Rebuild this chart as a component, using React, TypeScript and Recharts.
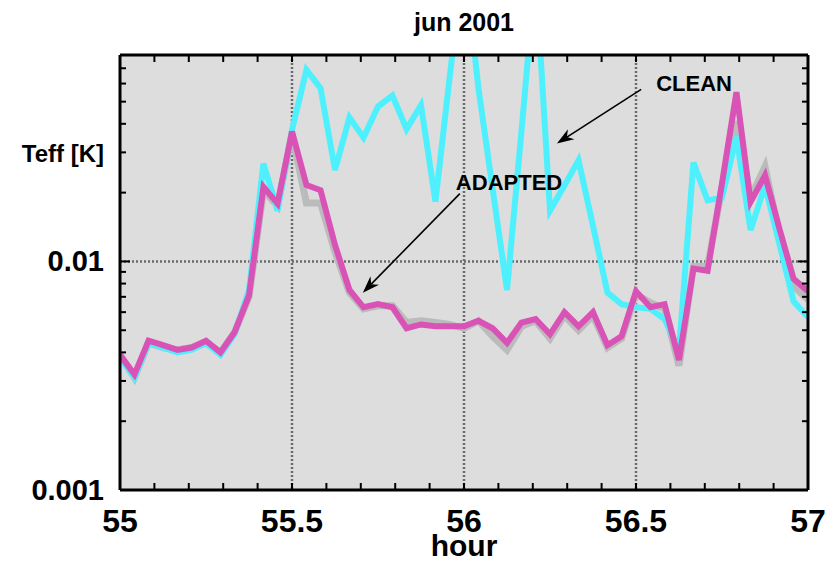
import { LineChart, Line, XAxis, YAxis, CartesianGrid, ReferenceLine } from 'recharts'

// samples every 2.5 min, hour 55 .. 57
const hours = [
  55, 55.042, 55.083, 55.125, 55.167, 55.208, 55.25, 55.292, 55.333, 55.375, 55.417, 55.458,
  55.5, 55.542, 55.583, 55.625, 55.667, 55.708, 55.75, 55.792, 55.833, 55.875, 55.917, 55.958,
  56, 56.042, 56.083, 56.125, 56.167, 56.208, 56.25, 56.292, 56.333, 56.375, 56.417, 56.458,
  56.5, 56.542, 56.583, 56.625, 56.667, 56.708, 56.75, 56.792, 56.833, 56.875, 56.917, 56.958,
  57,
]

const clean = [
  0.0038, 0.0031, 0.0044, 0.0042, 0.004, 0.0041, 0.0044, 0.0039, 0.0048, 0.0075, 0.0268, 0.0167,
  0.0376, 0.0689, 0.0572, 0.0251, 0.0426, 0.0348, 0.0476, 0.0532, 0.0379, 0.0483, 0.0183, 0.0634,
  0.216, 0.0572, 0.0209, 0.0075, 0.037, 0.184, 0.0167, 0.0215, 0.0277, 0.0143, 0.0073, 0.0065,
  0.0063, 0.0062, 0.0056, 0.0041, 0.0271, 0.0185, 0.019, 0.0351, 0.0137, 0.0215, 0.0119, 0.0067,
  0.0057,
]

const adapted = [
  0.0039, 0.0032, 0.0045, 0.0043, 0.0041, 0.0042, 0.0045, 0.004, 0.0049, 0.0071, 0.0212, 0.0179,
  0.037, 0.0216, 0.0205, 0.0118, 0.0075, 0.0063, 0.0065, 0.0063, 0.0051, 0.0053, 0.0052, 0.0052,
  0.0052, 0.0055, 0.0051, 0.0044, 0.0054, 0.0056, 0.0048, 0.006, 0.0052, 0.006, 0.0043, 0.0047,
  0.0074, 0.0063, 0.0065, 0.0037, 0.0093, 0.0091, 0.022, 0.055, 0.0182, 0.0238, 0.0139, 0.0084,
  0.0074,
]

// grey trace drawn underneath the adapted curve
const shadow = [
  0.0039, 0.0031, 0.0044, 0.0042, 0.0041, 0.0042, 0.0044, 0.004, 0.0049, 0.007, 0.0205, 0.0175,
  0.036, 0.018, 0.018, 0.011, 0.0073, 0.0062, 0.0064, 0.0064, 0.0054, 0.0055, 0.0054, 0.0053,
  0.0051, 0.0055, 0.0047, 0.0041, 0.0052, 0.0055, 0.0046, 0.0058, 0.005, 0.0058, 0.0042, 0.0046,
  0.0072, 0.0066, 0.0062, 0.0035, 0.0095, 0.0095, 0.021, 0.041, 0.019, 0.026, 0.013, 0.0078,
  0.0068,
]

const hourTicks = [
  55, 55.1, 55.2, 55.3, 55.4, 55.5, 55.6, 55.7, 55.8, 55.9, 56,
  56.1, 56.2, 56.3, 56.4, 56.5, 56.6, 56.7, 56.8, 56.9, 57,
]
const hourLabels = [55, 55.5, 56, 56.5, 57]
const teffTicks = [
  0.001, 0.002, 0.003, 0.004, 0.005, 0.006, 0.007, 0.008, 0.009,
  0.01, 0.02, 0.03, 0.04, 0.05, 0.06, 0.07, 0.08,
]
const teffLabels = [0.001, 0.01]
const gridHours = [55.5, 56, 56.5]
const gridTeff = [0.01]

const FONT = '"Liberation Sans", Arial, Helvetica, sans-serif'

const data = hours.map((h, i) => ({ hour: h, clean: clean[i], adapted: adapted[i], shadow: shadow[i] }))

const near = (list: number[], v: number) => list.some((m) => Math.abs(m - v) < 1e-9)

function BottomTick(props: any) {
  const { x, y, payload } = props
  const v = payload.value
  return (
    <g>
      <line x1={x} y1={y} x2={x} y2={y - 7} stroke="#000" strokeWidth={2} />
      {near(hourLabels, v) && (
        <text x={x} y={y + 42} textAnchor="middle" fontSize={32} fontWeight="bold" fontFamily={FONT} fill="#000">
          {String(v)}
        </text>
      )}
    </g>
  )
}

function TopTick(props: any) {
  const { x, y } = props
  return <line x1={x} y1={y} x2={x} y2={y + 7} stroke="#000" strokeWidth={2} />
}

function LeftTick(props: any) {
  const { x, y, payload } = props
  const v = payload.value
  const major = near(teffLabels, v)
  return (
    <g>
      <line x1={x} y1={y} x2={x + (major ? 10 : 6)} y2={y} stroke="#000" strokeWidth={2} />
      {major && (
        <text x={x - 16} y={y + 10} textAnchor="end" fontSize={29} fontWeight="bold" fontFamily={FONT} fill="#000">
          {String(v)}
        </text>
      )}
    </g>
  )
}

function RightTick(props: any) {
  const { x, y, payload } = props
  const major = near(teffLabels, payload.value)
  return <line x1={x} y1={y} x2={x - (major ? 10 : 6)} y2={y} stroke="#000" strokeWidth={2} />
}

function arrow(text: string, dx: number, dy: number) {
  return (p: any) => {
    const { x1, y1, x2, y2 } = p
    const a = Math.atan2(y2 - y1, x2 - x1)
    const c = Math.cos(a)
    const s = Math.sin(a)
    const L = 17
    const W = 6
    const bx = x2 - L * c
    const by = y2 - L * s
    const nx = x2 - L * 0.7 * c
    const ny = y2 - L * 0.7 * s
    const pts = [
      [x2, y2],
      [bx - W * s, by + W * c],
      [nx, ny],
      [bx + W * s, by - W * c],
    ]
      .map((q) => q.join(','))
      .join(' ')
    return (
      <g>
        <line x1={x1} y1={y1} x2={nx} y2={ny} stroke="#000" strokeWidth={1.6} />
        <polygon points={pts} fill="#000" />
        <text x={x1 + dx} y={y1 + dy} fontSize={22} fontWeight="bold" fontFamily={FONT} fill="#000">
          {text}
        </text>
      </g>
    )
  }
}

export default function App() {
  return (
    <div style={{ position: 'absolute', left: 0, top: 0, width: 827, height: 563, background: '#fff' }}>
      <LineChart width={827} height={563} data={data} margin={{ top: 0, right: 0, bottom: 0, left: 0 }}>
        <CartesianGrid
          fill="#dcdddc"
          stroke="#6a6a6a"
          strokeWidth={2.5}
          strokeDasharray="2 2"
          verticalValues={gridHours}
          horizontalValues={gridTeff}
        />
        <XAxis
          dataKey="hour"
          type="number"
          domain={[55, 57]}
          allowDataOverflow
          ticks={hourTicks}
          interval={0}
          height={73}
          tickSize={0}
          tickMargin={0}
          tickLine={false}
          tick={<BottomTick />}
          axisLine={{ stroke: '#000', strokeWidth: 3 }}
          label={(p: any) => (
            <text
              x={p.viewBox.x + p.viewBox.width / 2}
              y={p.viewBox.y + 66}
              textAnchor="middle"
              fontSize={30}
              fontWeight="bold"
              fontFamily={FONT}
              fill="#000"
            >
              hour
            </text>
          )}
        />
        <XAxis
          xAxisId="top"
          orientation="top"
          dataKey="hour"
          type="number"
          domain={[55, 57]}
          allowDataOverflow
          ticks={hourTicks}
          interval={0}
          height={55}
          tickSize={0}
          tickMargin={0}
          tickLine={false}
          tick={<TopTick />}
          axisLine={{ stroke: '#000', strokeWidth: 3 }}
          label={(p: any) => (
            <text
              x={p.viewBox.x + p.viewBox.width / 2}
              y={p.viewBox.y + 31}
              textAnchor="middle"
              fontSize={25}
              fontWeight="bold"
              fontFamily={FONT}
              fill="#000"
            >
              jun 2001
            </text>
          )}
        />
        <YAxis
          type="number"
          scale="log"
          domain={[0.001, 0.08]}
          allowDataOverflow
          ticks={teffTicks}
          interval={0}
          width={120}
          tickSize={0}
          tickMargin={0}
          tickLine={false}
          tick={<LeftTick />}
          axisLine={{ stroke: '#000', strokeWidth: 3 }}
          label={(p: any) => (
            <text
              x={p.viewBox.x + p.viewBox.width - 16}
              y={p.viewBox.y + 107}
              textAnchor="end"
              fontSize={24}
              fontWeight="bold"
              fontFamily={FONT}
              fill="#000"
            >
              Teff [K]
            </text>
          )}
        />
        <YAxis
          yAxisId="right"
          orientation="right"
          type="number"
          scale="log"
          domain={[0.001, 0.08]}
          allowDataOverflow
          ticks={teffTicks}
          interval={0}
          width={19}
          tickSize={0}
          tickMargin={0}
          tickLine={false}
          tick={<RightTick />}
          axisLine={{ stroke: '#000', strokeWidth: 3 }}
        />
        <Line
          xAxisId="top"
          yAxisId="right"
          type="linear"
          dataKey="shadow"
          stroke="#bbbbbb"
          strokeWidth={7}
          dot={false}
          isAnimationActive={false}
        />
        <Line type="linear" dataKey="clean" stroke="#4ff0fd" strokeWidth={6} dot={false} isAnimationActive={false} />
        <Line type="linear" dataKey="adapted" stroke="#d952b6" strokeWidth={6} dot={false} isAnimationActive={false} />
        <ReferenceLine
          segment={[
            { x: 56.515, y: 0.0566 },
            { x: 56.27, y: 0.0328 },
          ]}
          shape={arrow('CLEAN', 15, 2)}
        />
        <ReferenceLine
          segment={[
            { x: 55.988, y: 0.0198 },
            { x: 55.706, y: 0.0073 },
          ]}
          shape={arrow('ADAPTED', -4, -4)}
        />
      </LineChart>
    </div>
  )
}
